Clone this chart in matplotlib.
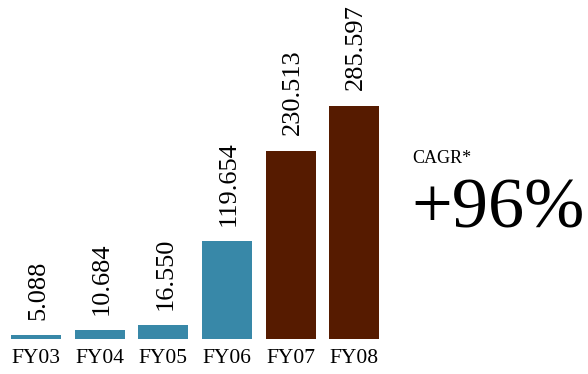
import matplotlib
matplotlib.use("Agg")
import matplotlib.pyplot as plt

# Revenue by fiscal year
years = ["FY03", "FY04", "FY05", "FY06", "FY07", "FY08"]
values = [5.088, 10.684, 16.550, 119.654, 230.513, 285.597]
value_labels = ["5.088", "10.684", "16.550", "119.654", "230.513", "285.597"]
bar_colors = ["#3888a8", "#3888a8", "#3888a8", "#3888a8", "#561b00", "#561b00"]
cagr_title = "CAGR*"
cagr_value = "+96%"

plt.rcParams["font.family"] = ["Liberation Serif", "DejaVu Serif"]

W, H, DPI = 588, 374, 100
fig = plt.figure(figsize=(W / DPI, H / DPI), dpi=DPI)

# axes occupy the left part; baseline of bars sits at y=339 px from top
ax_left_px, ax_right_px = 0, 400
base_px = 339
ax = fig.add_axes([ax_left_px / W, (H - base_px) / H,
                   (ax_right_px - ax_left_px) / W, base_px / H])

x = list(range(len(years)))
ax.bar(x, values, width=0.786, color=bar_colors)

for xi, v, lab in zip(x, values, value_labels):
    ax.annotate(lab, (xi, v), xytext=(1.5, 11), textcoords="offset points",
                rotation=90, ha="center", va="bottom", fontsize=19)

ax.set_xlim(-0.566, 5.72)
ax.set_ylim(0, 415)
ax.set_xticks(x)
ax.set_xticklabels(years, fontsize=15.5)
ax.tick_params(axis="x", length=0, pad=7)
ax.set_yticks([])
for s in ax.spines.values():
    s.set_visible(False)

fig.text(412 / W, 1 - 163 / H, cagr_title, fontsize=13, ha="left", va="baseline")
fig.text(411 / W, 1 - 227 / H, cagr_value, fontsize=52, ha="left", va="baseline")

fig.savefig("out.png", dpi=DPI)
